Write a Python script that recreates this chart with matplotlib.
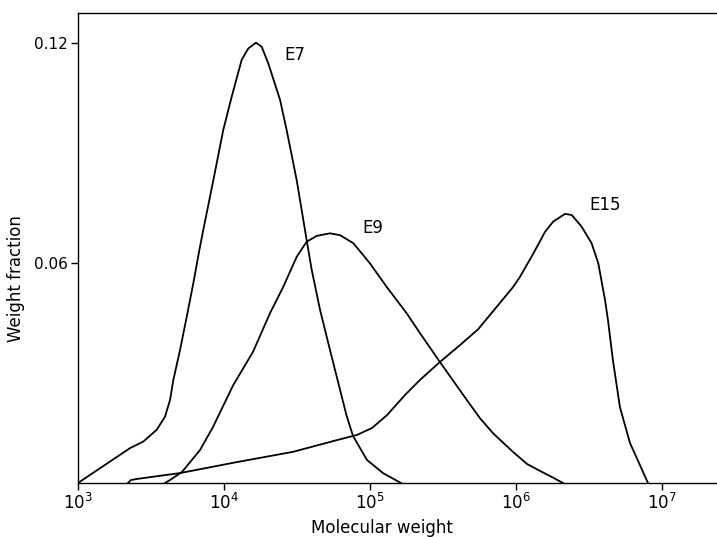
import numpy as np
import matplotlib
matplotlib.use("Agg")
import matplotlib.pyplot as plt

# log10(molecular weight) and weight fraction
e7_logm = [3.000, 3.356, 3.447, 3.539, 3.596, 3.630, 3.653, 3.699, 3.745, 3.790,
           3.831, 3.858, 3.927, 3.995, 4.053, 4.121, 4.166, 4.219, 4.258, 4.303,
           4.384, 4.429, 4.498, 4.566, 4.601, 4.658, 4.726, 4.795, 4.840, 4.884,
           4.979, 5.089, 5.212]
e7_frac = [0.0000, 0.0095, 0.0113, 0.0145, 0.0181, 0.0226, 0.0281, 0.0363, 0.0454, 0.0545,
           0.0635, 0.0690, 0.0826, 0.0963, 0.1054, 0.1154, 0.1185, 0.1201, 0.1190, 0.1145,
           0.1045, 0.0963, 0.0826, 0.0663, 0.0581, 0.0472, 0.0363, 0.0254, 0.0183, 0.0128,
           0.0063, 0.0027, 0.0000]

e9_logm = [3.596, 3.630, 3.712, 3.836, 3.925, 4.062, 4.199, 4.315, 4.406, 4.498,
           4.566, 4.635, 4.726, 4.795, 4.886, 5.000, 5.114, 5.251, 5.342, 5.479,
           5.664, 5.753, 5.842, 5.979, 6.075, 6.164, 6.247, 6.322]
e9_frac = [0.0000, 0.0008, 0.0030, 0.0090, 0.0153, 0.0266, 0.0358, 0.0463, 0.0535, 0.0617,
           0.0658, 0.0674, 0.0681, 0.0676, 0.0654, 0.0599, 0.0535, 0.0463, 0.0409, 0.0330,
           0.0226, 0.0177, 0.0136, 0.0085, 0.0052, 0.0033, 0.0016, 0.0000]

e15_logm = [3.342, 3.363, 3.404, 3.699, 4.062, 4.473, 4.774, 4.911, 5.014, 5.116,
            5.240, 5.342, 5.479, 5.616, 5.740, 5.842, 5.979, 6.027, 6.119, 6.199,
            6.255, 6.336, 6.382, 6.450, 6.518, 6.564, 6.610, 6.630, 6.664, 6.712,
            6.781, 6.849, 6.904]
e15_frac = [0.0000, 0.0008, 0.0011, 0.0027, 0.0055, 0.0085, 0.0117, 0.0131, 0.0150, 0.0185,
            0.0240, 0.0281, 0.0330, 0.0376, 0.0419, 0.0468, 0.0534, 0.0562, 0.0626, 0.0685,
            0.0713, 0.0734, 0.0731, 0.0699, 0.0654, 0.0599, 0.0499, 0.0445, 0.0335, 0.0207,
            0.0109, 0.0049, 0.0000]

labels = ["E7", "E9", "E15"]
label_logm = [4.486, 5.021, 6.610]
label_frac = [0.1154, 0.0682, 0.0745]

x_tick_exps = [3, 4, 5, 6, 7]
y_ticks = [0.06, 0.12]

fig = plt.figure(figsize=(7.17, 5.37), dpi=100)
ax = fig.add_axes([0.1088, 0.1006, 0.8912, 0.8752])

for logm, frac in [(e7_logm, e7_frac), (e9_logm, e9_frac), (e15_logm, e15_frac)]:
    ax.plot(10 ** np.array(logm), frac, color="black", linewidth=1.3,
            solid_joinstyle="round")

for text, lm, fr in zip(labels, label_logm, label_frac):
    ax.text(10 ** lm, fr, text, ha="center", va="baseline", fontsize=12)

ax.set_xscale("log")
ax.set_xlim(1e3, 10 ** 7.377)
ax.set_ylim(0, 0.1282)

ax.set_xticks([10.0 ** e for e in x_tick_exps])
ax.set_xticklabels([f"$10^{{{e}}}$" for e in x_tick_exps], fontsize=12)
ax.xaxis.set_minor_locator(matplotlib.ticker.NullLocator())
ax.set_yticks(y_ticks)
ax.set_yticklabels([f"{v:.2f}" for v in y_ticks], fontsize=11)
ax.tick_params(direction="out", length=5, width=1, pad=2.5)

ax.spines["right"].set_visible(False)
for side in ["left", "bottom", "top"]:
    ax.spines[side].set_linewidth(1.0)

ax.set_xlabel("Molecular weight", fontsize=12)
ax.xaxis.set_label_coords(0.476, -0.077)
ax.set_ylabel("Weight fraction", fontsize=12)
ax.yaxis.set_label_coords(-0.083, 0.434)

fig.savefig("out.png", dpi=100)
plt.close(fig)
